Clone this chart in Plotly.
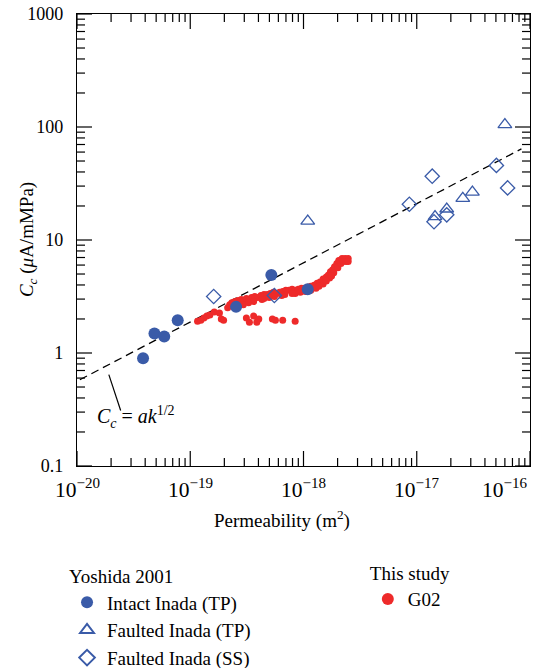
import numpy as np
import plotly.graph_objects as go

# ---------------- data ----------------
# Yoshida 2001 - Intact Inada (TP)
intact_k = [3.83e-20, 4.83e-20, 5.89e-20, 7.75e-20, 2.54e-19, 5.2e-19, 1.09e-18]
intact_c = [0.90, 1.49, 1.40, 1.95, 2.56, 4.9, 3.66]

# Yoshida 2001 - Faulted Inada (TP)
ftp_k = [1.09e-18, 1.45e-17, 1.84e-17, 2.55e-17, 3.1e-17, 6.0e-17]
ftp_c = [14.7, 16.1, 18.8, 23.4, 26.5, 105.0]

# Yoshida 2001 - Faulted Inada (SS)
fss_k = [1.61e-19, 5.53e-19, 8.6e-18, 1.37e-17, 1.42e-17, 1.84e-17, 5.05e-17, 6.34e-17]
fss_c = [3.16, 3.23, 20.7, 36.7, 14.5, 16.7, 45.7, 28.9]

# This study - G02
g02_k = [1.16e-19, 1.24e-19, 1.32e-19, 1.40e-19, 1.49e-19, 1.81e-19, 1.88e-19, 1.97e-19,
         2.14e-19, 2.23e-19, 2.33e-19, 2.48e-19, 2.64e-19, 2.82e-19, 3.00e-19, 3.13e-19,
         3.33e-19, 3.48e-19, 3.71e-19, 3.95e-19, 4.21e-19, 4.48e-19, 4.78e-19, 5.09e-19,
         5.42e-19, 5.77e-19, 6.15e-19, 6.55e-19, 6.98e-19, 7.44e-19, 7.93e-19, 8.44e-19,
         9.00e-19, 9.59e-19, 1.02e-18, 1.09e-18, 1.16e-18, 1.24e-18, 1.32e-18, 1.40e-18,
         1.49e-18, 1.59e-18, 1.66e-18, 1.73e-18, 1.81e-18, 1.88e-18, 1.97e-18, 2.05e-18,
         2.19e-18, 2.33e-18, 2.48e-18,
         2.94e-19, 3.63e-19, 4.48e-19, 5.54e-19, 6.84e-19, 8.44e-19, 1.04e-18, 1.29e-18,
         1.49e-18, 1.70e-18, 1.85e-18, 2.01e-18, 2.14e-18, 2.38e-18,
         2.53e-19, 3.27e-19, 4.30e-19, 4.98e-19, 6.42e-19, 7.93e-19, 9.38e-19, 1.16e-18,
         1.37e-18, 1.59e-18, 1.77e-18, 2.23e-18, 2.48e-18, 1.63e-19, 2.38e-19,
         3.13e-19, 3.33e-19, 3.63e-19, 3.87e-19, 4.03e-19, 5.31e-19, 5.65e-19, 6.55e-19,
         8.44e-19]
g02_c = [1.91, 1.95, 2.04, 2.12, 2.17, 2.26, 2.00, 1.95,
         2.51, 2.67, 2.79, 2.85, 2.91, 2.97, 2.85, 3.03,
         2.97, 3.10, 3.16, 3.10, 3.23, 3.30, 3.30, 3.37,
         3.44, 3.37, 3.44, 3.51, 3.59, 3.59, 3.66, 3.59,
         3.66, 3.74, 3.74, 3.82, 3.90, 3.98, 4.15, 4.24,
         4.51, 4.71, 4.91, 5.23, 5.45, 5.80, 6.18, 6.58,
         6.86, 6.86, 6.86,
         2.67, 2.85, 3.03, 3.16, 3.30, 3.37, 3.51, 3.74,
         4.07, 4.61, 5.12, 5.68, 6.18, 6.44,
         2.62, 2.79, 2.97, 3.10, 3.23, 3.37, 3.44, 3.59,
         3.90, 4.33, 4.81, 6.44, 6.44, 2.31, 2.62,
         2.04, 1.87, 2.12, 1.87, 2.00, 2.00, 1.95, 1.95,
         1.91]

# Fit line Cc = a k^(1/2) (end points)
fit_k = [1.06e-20, 8.4e-17]
fit_c = [0.58, 64.0]

# Pointer from label to fit line
pointer_k = [1.91e-20, 2.43e-20]
pointer_c = [0.644, 0.31]
label_k = 3.32e-20
label_c = 0.272

# axis ranges (decades) and tick labels
x_range_log = [-20, -16]
y_range_log = [-1, 3]
x_tick_exponents = [-20, -19, -18, -17, -16]
y_tickvals = [0.1, 1, 10, 100, 1000]
y_ticktext = ["0.1", "1", "10", "100", "1000"]

# ---------------- styling ----------------
FONT = "Liberation Serif"
BLUE = "#3a5ba8"
RED = "#ee2a2a"

fig = go.Figure()

fig.add_trace(go.Scatter(x=fit_k, y=fit_c, mode="lines",
                         line=dict(color="black", width=1.3, dash="8px,5px"),
                         showlegend=False, hoverinfo="skip"))
fig.add_trace(go.Scatter(x=pointer_k, y=pointer_c, mode="lines",
                         line=dict(color="black", width=1.2),
                         showlegend=False, hoverinfo="skip"))

fig.add_trace(go.Scatter(x=g02_k, y=g02_c, mode="markers", name="G02",
                         marker=dict(symbol="circle", size=7, color=RED),
                         legend="legend2"))
fig.add_trace(go.Scatter(x=intact_k, y=intact_c, mode="markers", name="Intact Inada (TP)",
                         marker=dict(symbol="circle", size=12, color=BLUE)))
fig.add_trace(go.Scatter(x=ftp_k, y=ftp_c, mode="markers", name="Faulted Inada (TP)",
                         marker=dict(symbol="triangle-up-open", size=12, color=BLUE,
                                     line=dict(width=1.3, color=BLUE))))
fig.add_trace(go.Scatter(x=fss_k, y=fss_c, mode="markers", name="Faulted Inada (SS)",
                         marker=dict(symbol="diamond-open", size=11, color=BLUE,
                                     line=dict(width=1.3, color=BLUE))))

axis_common = dict(
    type="log", showline=True, linecolor="black", linewidth=1.3, mirror=True,
    ticks="", showgrid=False, zeroline=False,
    tickfont=dict(family=FONT, size=18, color="black"),
)

fig.update_xaxes(range=x_range_log, showticklabels=False, **axis_common)
fig.update_yaxes(range=y_range_log, tickmode="array", tickvals=y_tickvals,
                 ticktext=y_ticktext, ticklabelstandoff=9, **axis_common)

# x tick labels (10^n) placed under each decade
for i, p in enumerate(x_tick_exponents):
    last = i == len(x_tick_exponents) - 1
    fig.add_annotation(x=p, y=-0.0487, xref="x", yref="paper",
                       xanchor="right" if last else "center", yanchor="middle",
                       text="10<sup>\u2212%d</sup>" % (-p), showarrow=False,
                       font=dict(family=FONT, size=21.5, color="black"))

# ---- tick marks (major at decades, minor at 2..9), drawn inside on all four sides ----
MAJOR_LEN, MINOR_LEN = 15, 8
tick_line = dict(color="black", width=1.2)


def tick_positions(rng):
    out = []
    span = rng[1] - rng[0]
    for d in range(rng[0], rng[1] + 1):
        out.append(((d - rng[0]) / span, MAJOR_LEN))
        if d < rng[1]:
            for m in range(2, 10):
                out.append(((d + np.log10(m) - rng[0]) / span, MINOR_LEN))
    return out


shapes = []
for frac, ln in tick_positions(x_range_log):
    for anchor, sign in ((0, 1), (1, -1)):
        shapes.append(dict(type="line", xref="x domain", yref="y domain",
                           ysizemode="pixel", yanchor=anchor,
                           x0=frac, x1=frac, y0=0, y1=sign * ln, line=tick_line, layer="above"))
for frac, ln in tick_positions(y_range_log):
    for anchor, sign in ((0, 1), (1, -1)):
        shapes.append(dict(type="line", xref="x domain", yref="y domain",
                           xsizemode="pixel", xanchor=anchor,
                           y0=frac, y1=frac, x0=0, x1=sign * ln, line=tick_line, layer="above"))

fig.add_annotation(x=np.log10(label_k), y=np.log10(label_c), xref="x", yref="y",
                   xanchor="center", yanchor="middle",
                   text="<i>C<sub>c</sub></i> = <i>ak</i><sup>1/2</sup>", showarrow=False,
                   font=dict(family=FONT, size=20, color="black"))
fig.add_annotation(x=0.4525, y=-0.119, xref="paper", yref="paper",
                   xanchor="center", yanchor="middle",
                   text="Permeability (m<sup>2</sup>)", showarrow=False,
                   font=dict(family=FONT, size=19, color="black"))
fig.add_annotation(x=-0.108, y=0.5, xref="paper", yref="paper", textangle=-90,
                   xanchor="center", yanchor="middle",
                   text="<i>C<sub>c</sub></i> (<i>\u03bc</i>A/mMPa)", showarrow=False,
                   font=dict(family=FONT, size=19, color="black"))

legend_common = dict(font=dict(family=FONT, size=19, color="black"),
                     bgcolor="rgba(0,0,0,0)", itemsizing="constant",
                     xanchor="left", yanchor="top", traceorder="normal")
fig.update_layout(
    width=550, height=668,
    margin=dict(l=77, r=20, t=14, b=202, autoexpand=False),
    paper_bgcolor="white", plot_bgcolor="white",
    shapes=shapes,
    legend=dict(x=-0.022, y=-0.205, title=dict(text="Yoshida 2001",
                font=dict(family=FONT, size=19, color="black")), **legend_common),
    legend2=dict(x=0.642, y=-0.198, title=dict(text="This study",
                 font=dict(family=FONT, size=19, color="black")), **legend_common),
)

fig.write_html("out.html")
